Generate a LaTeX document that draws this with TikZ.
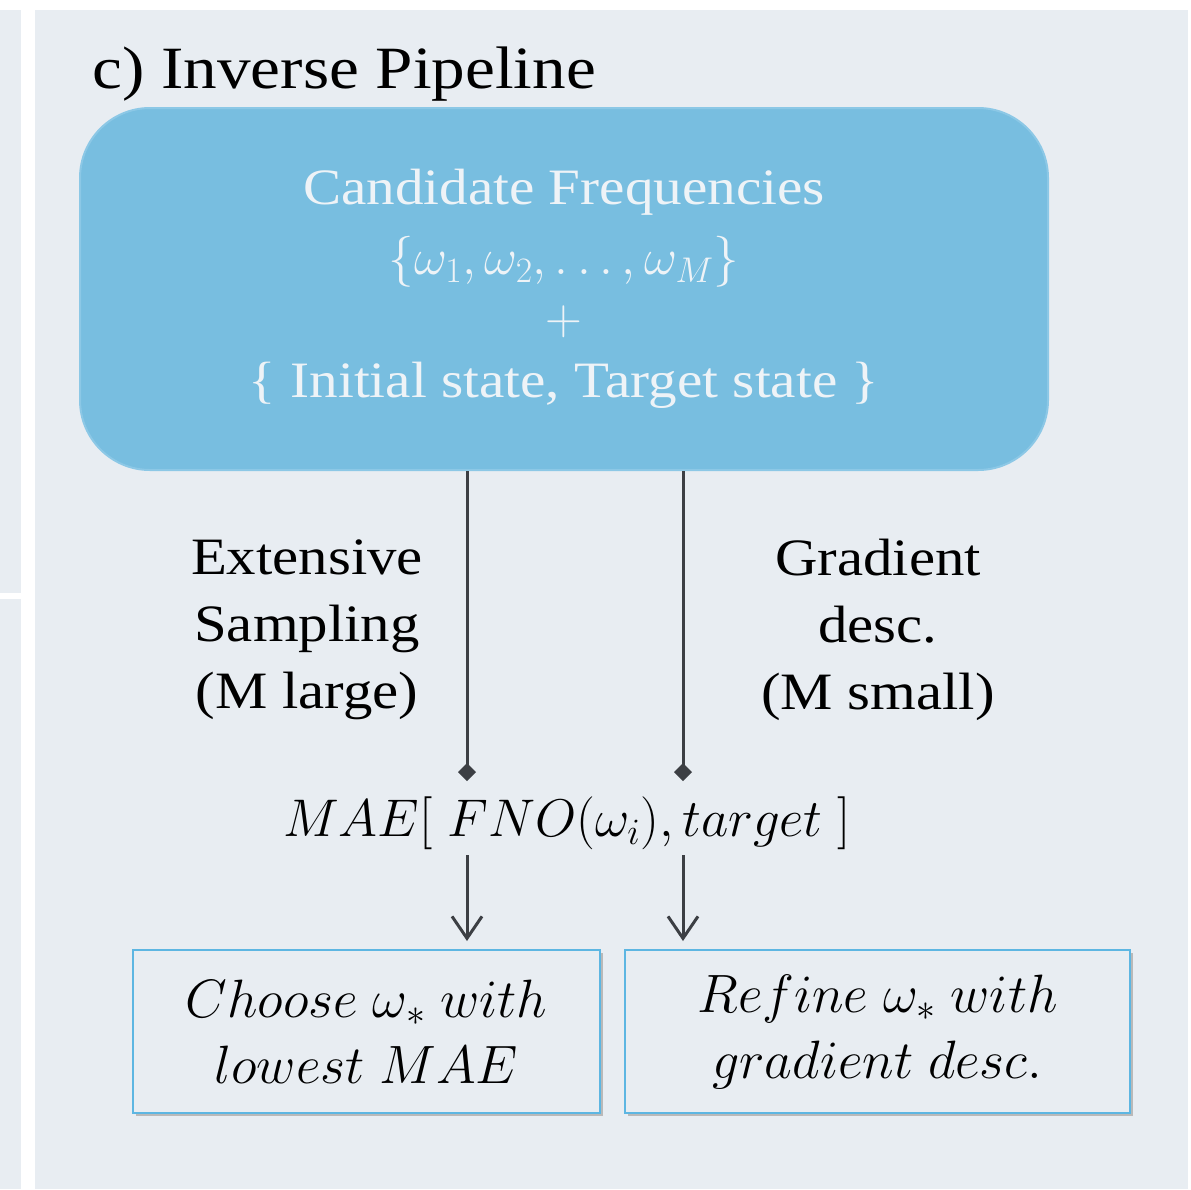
\RequirePackage{fix-cm}
\documentclass[tikz,border=0pt]{standalone}
\usepackage{fontspec}
\setmainfont{Liberation Serif}[FakeStretch=1.12]
\usetikzlibrary{arrows.meta}
\definecolor{panel}{HTML}{E8EDF2}
\definecolor{boxblue}{HTML}{78BEE0}
\definecolor{boxedge}{HTML}{8CC8E6}
\definecolor{txtw}{HTML}{EEF3F7}
\definecolor{arrcol}{HTML}{3C3F44}
\definecolor{edgeblue}{HTML}{5DB6E2}
\tikzset{
  bigbox/.style={fill=boxblue, draw=boxedge, line width=2pt, rounded corners=70pt,
    minimum width=968pt, minimum height=362pt, inner sep=0pt},
  intext/.style={text=txtw, font=\fontsize{51}{51}\selectfont, inner sep=0pt},
  lbl/.style={align=center, font=\fontsize{52.5}{67}\selectfont, inner sep=0pt, text=black},
  conn/.style={draw=arrcol, line width=3pt},
  resbox/.style={draw=edgeblue, line width=2pt, fill=panel, minimum width=467pt,
    minimum height=163pt, inner sep=0pt, align=center,
    font=\fontsize{54}{66}\selectfont},
}
\begin{document}
\begin{tikzpicture}[x=1pt,y=-1pt]
\useasboundingbox (0,0) rectangle (1191,1189);
\fill[white] (0,0) rectangle (1191,1189);
\fill[panel] (0,10) rectangle (21,1189);
\fill[white] (0,593) rectangle (21,599);
\fill[panel] (35,10) rectangle (1188,1189);
\node[anchor=base west, inner sep=0pt, font=\fontsize{60}{60}\selectfont] (title) at (92,88) {c) Inverse Pipeline};
\node[bigbox] (cand) at (564,289) {};
\node[intext] (l1) at (564,192) {Candidate Frequencies};
\node[intext] (l2) at (564,262) {$\{\omega_1,\omega_2,\ldots,\omega_M\}$};
\node[intext] (l3) at (564,322) {$+$};
\node[intext] (l4) at (564,385) {\{ Initial state, Target state \}};
\node[lbl] (ext) at (307,630) {Extensive\\Sampling\\(M large)};
\node[lbl] (grad) at (878,630) {Gradient\\desc.\\(M small)};
\node[inner sep=0pt, font=\fontsize{53}{53}\selectfont] (mae) at (567,823) {$MAE[\;FNO(\omega_i),target\;]$};
\coordinate (dl) at (467,781);
\coordinate (dr) at (683,781);
\draw[conn, -{Diamond[length=18pt,width=18pt]}] (cand.south -| dl) -- (dl);
\draw[conn, -{Diamond[length=18pt,width=18pt]}] (cand.south -| dr) -- (dr);
\fill[gray!55] (136,953) rectangle (603,1116);
\fill[gray!55] (628,953) rectangle (1133,1116);
\node[resbox, minimum width=467pt] (choose) at (366.5,1031.5) {$Choose\;\omega_*\;with$\\$lowest\;MAE$};
\node[resbox, minimum width=505pt] (refine) at (877.5,1031.5) {$Refine\;\omega_*\;with$\\$gradient\;desc.$};
\coordinate (al) at (467,855);
\coordinate (ar) at (683,855);
\draw[conn, -{Straight Barb[length=22pt,width=30pt]}, shorten >=8pt] (al) -- (al |- choose.north);
\draw[conn, -{Straight Barb[length=22pt,width=30pt]}, shorten >=8pt] (ar) -- (ar |- refine.north);
\end{tikzpicture}
\end{document}
